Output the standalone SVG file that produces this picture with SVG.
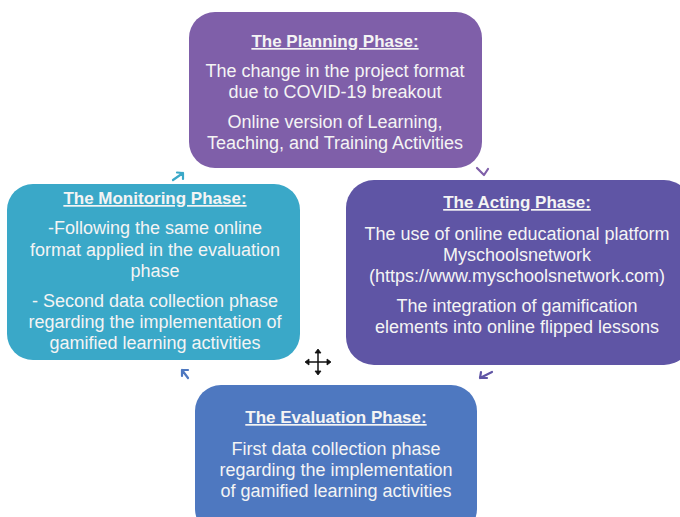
<svg xmlns="http://www.w3.org/2000/svg" width="680" height="517" viewBox="0 0 680 517">
<style>
text{font-family:"Liberation Sans",Arial,sans-serif;fill:#f4f4f4;text-anchor:middle}
.t{font-size:17px;font-weight:bold;text-decoration:underline}
.b{font-size:18px}
.arr{fill:none;stroke-width:2.2;stroke-linecap:round;stroke-linejoin:round}
</style>
<rect width="680" height="517" fill="#ffffff"/>
<g id="planning">
<rect x="189" y="12" width="293" height="156" rx="26" fill="#7f5fa9"/>
<text class="t" x="335" y="47">The Planning Phase:</text>
<text class="b" x="335" y="77">The change in the project format</text>
<text class="b" x="335" y="98">due to COVID-19 breakout</text>
<text class="b" x="335" y="128">Online version of Learning,</text>
<text class="b" x="335" y="149">Teaching, and Training Activities</text>
</g>
<g id="acting">
<rect x="346" y="180" width="346" height="185" rx="28" fill="#5f55a5"/>
<text class="t" x="517" y="208">The Acting Phase:</text>
<text class="b" x="517" y="240">The use of online educational platform</text>
<text class="b" x="517" y="261">Myschoolsnetwork</text>
<text class="b" x="517" y="282">(https://www.myschoolsnetwork.com)</text>
<text class="b" x="517" y="312">The integration of gamification</text>
<text class="b" x="517" y="333">elements into online flipped lessons</text>
</g>
<g id="evaluation">
<rect x="195" y="385" width="282" height="150" rx="26" fill="#4e78c0"/>
<text class="t" x="336" y="423">The Evaluation Phase:</text>
<text class="b" x="336" y="455">First data collection phase</text>
<text class="b" x="336" y="476">regarding the implementation</text>
<text class="b" x="336" y="497">of gamified learning activities</text>
</g>
<g id="monitoring">
<rect x="7" y="184" width="293" height="176" rx="26" fill="#3aa8c8"/>
<text class="t" x="155" y="204">The Monitoring Phase:</text>
<text class="b" x="155" y="234">-Following the same online</text>
<text class="b" x="155" y="256">format applied in the evaluation</text>
<text class="b" x="155" y="277">phase</text>
<text class="b" x="155" y="307">- Second data collection phase</text>
<text class="b" x="155" y="328">regarding the implementation of</text>
<text class="b" x="155" y="349">gamified learning activities</text>
</g>
<g id="connectors">
<path class="arr" stroke="#3aa8c8" d="M173 180 L183 173 M177 172.5 L183 173 L183 179"/>
<path class="arr" stroke="#7f5fa9" d="M477 168 L484 175 L488 169"/>
<path class="arr" stroke="#5f55a5" d="M492 372 L480 378 M481 372 L480 378 L487 378"/>
<path class="arr" stroke="#4e78c0" d="M188 378 L182 370 M182 376 L182 370 L188 370"/>
</g>
<g id="move-icon" stroke="#111" stroke-width="1.5" fill="#111">
<line x1="318" y1="352" x2="318" y2="372"/>
<line x1="308" y1="362" x2="328" y2="362"/>
<path d="M318 349 l-3 4 h6z M318 375 l-3 -4 h6z M305 362 l4 -3 v6z M331 362 l-4 -3 v6z" stroke-width="0.8"/>
</g>
</svg>
